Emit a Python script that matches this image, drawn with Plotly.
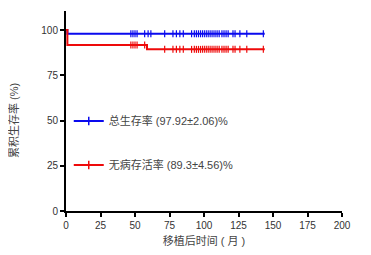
import numpy as np
import plotly.graph_objects as go

# Kaplan-Meier step data (months, survival %)
os_times = [0, 1, 144]
os_surv = [100, 97.92, 97.92]
dfs_times = [0, 1, 58.7, 144]
dfs_surv = [100, 91.67, 89.3, 89.3]

# censored observations (months)
os_censor = [47, 48.5, 50, 51.5, 57, 59.5, 61.5, 71.5, 77.5, 80, 82.5, 85, 91, 93, 94.5,
             96, 97.5, 99, 100.5, 102, 103.5, 105, 106.5, 108, 109.5, 111, 113, 114.5,
             116, 117.5, 121, 122.5, 126, 131, 143]
dfs_censor = [47, 48.5, 50, 51.5, 57, 71.5, 77.5, 80, 82.5, 85, 91, 93, 94.5,
              96, 97.5, 99, 100.5, 102, 103.5, 105, 106.5, 108, 109.5, 111, 113, 114.5,
              116, 117.5, 121, 122.5, 126, 131, 143]

os_label = "总生存率 (97.92±2.06)%"
dfs_label = "无病存活率 (89.3±4.56)%"
x_ticks = [0, 25, 50, 75, 100, 125, 150, 175, 200]
y_ticks = [0, 25, 50, 75, 100]

BLUE = "#0a0aee"
RED = "#ee0a0a"
FONT = "Liberation Sans, Noto Sans CJK SC, sans-serif"


def step_at(times, surv, t):
    idx = np.searchsorted(times, t, side="right") - 1
    return [surv[i] for i in idx]


fig = go.Figure()
for times, surv, cens, color, label in [
    (os_times, os_surv, os_censor, BLUE, os_label),
    (dfs_times, dfs_surv, dfs_censor, RED, dfs_label),
]:
    fig.add_trace(go.Scatter(x=times, y=surv, mode="lines", line=dict(color=color, width=2, shape="hv"),
                             showlegend=False, hoverinfo="skip"))
    fig.add_trace(go.Scatter(x=cens, y=step_at(times, surv, cens), mode="markers",
                             marker=dict(symbol="line-ns", size=5, line=dict(color=color, width=1.2)),
                             showlegend=False, hoverinfo="skip"))
    fig.add_trace(go.Scatter(x=[None], y=[None], mode="lines+markers", name=label,
                             line=dict(color=color, width=2),
                             marker=dict(symbol="line-ns", size=6, line=dict(color=color, width=1.5)),
                             legendgroup=label))

fig.add_annotation(text="累积生存率 (%)", textangle=-90, xref="paper", yref="y", x=-0.19, y=50,
                   xanchor="center", yanchor="middle", showarrow=False,
                   font=dict(family=FONT, size=11, color="#444"))

# page body has an 8px margin; figure sized so the whole page fits the 371x255 window
fig.update_layout(
    width=355, height=239,
    margin=dict(l=58, r=21, t=3, b=36),
    plot_bgcolor="white", paper_bgcolor="white",
    font=dict(family=FONT, size=10, color="#333"),
    showlegend=True,
    legend=dict(x=0.01, y=0.34, xanchor="left", yanchor="middle", bgcolor="rgba(0,0,0,0)",
                font=dict(family=FONT, size=11, color="#444"), tracegroupgap=25,
                itemwidth=30),
    xaxis=dict(range=[0, 200], tickvals=x_ticks, showgrid=False, zeroline=False,
               showline=True, linecolor="black", linewidth=2, ticks="outside", ticklen=4,
               tickwidth=2, tickcolor="black", automargin=False,
               title=dict(text="移植后时间 ( 月 )", font=dict(family=FONT, size=11, color="#444"), standoff=8)),
    yaxis=dict(range=[0, 110.5], tickvals=y_ticks, showgrid=False, zeroline=False,
               showline=True, linecolor="black", linewidth=2, ticks="outside", ticklen=4,
               tickwidth=2, tickcolor="black", automargin=False),
)

fig.write_html("out.html")
